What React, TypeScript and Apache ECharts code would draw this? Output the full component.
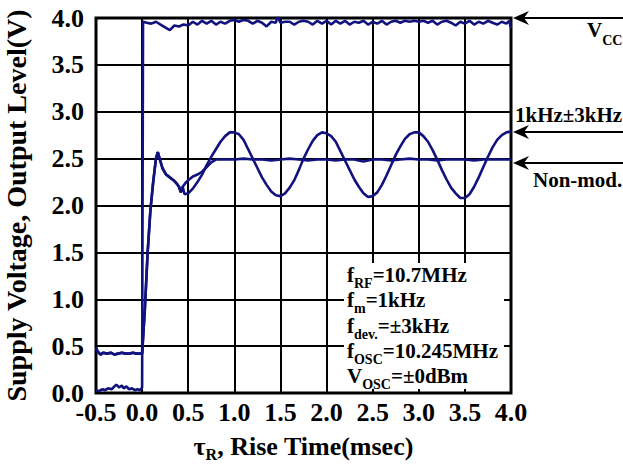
import React, { useEffect, useRef } from "react";
import * as echarts from "echarts";

const FONT = '"Liberation Serif", "Times New Roman", Times, serif';
const NAVY = "#12127f";

// x axis: time (msec), y axis: volts
const xMin = -0.5;
const xMax = 4.0;
const yMin = 0;
const yMax = 4.0;
const tickStep = 0.5;

// Supply voltage (Vcc) trace
const supplyTrace: [number, number][] = [
  [-0.5, 0.03], [-0.47, 0.02], [-0.43, 0.04], [-0.4, 0.03], [-0.37, 0.05], [-0.33, 0.04],
  [-0.3, 0.07], [-0.28, 0.09], [-0.25, 0.06], [-0.22, 0.08], [-0.2, 0.05], [-0.17, 0.07],
  [-0.14, 0.04], [-0.11, 0.05], [-0.08, 0.03], [-0.05, 0.04], [-0.02, 0.03], [0.0, 0.06],
  [0.01, 3.96], [0.05, 3.95], [0.1, 3.94], [0.15, 3.96], [0.2, 3.93], [0.25, 3.9], [0.3, 3.87],
  [0.35, 3.92], [0.4, 3.91], [0.45, 3.93], [0.5, 3.92], [0.55, 3.96], [0.6, 3.93], [0.65, 3.97],
  [0.7, 3.94], [0.75, 3.97], [0.8, 3.93], [0.85, 3.96], [0.9, 3.94], [0.95, 3.97], [1.0, 3.98],
  [1.05, 3.96], [1.1, 3.98], [1.15, 3.97], [1.2, 3.94], [1.25, 3.97], [1.3, 3.95], [1.35, 3.91],
  [1.4, 3.96], [1.45, 3.95], [1.47, 4.02], [1.5, 3.95], [1.55, 3.96], [1.6, 3.96], [1.65, 3.93],
  [1.7, 3.96], [1.75, 3.97], [1.8, 3.96], [1.85, 3.93], [1.9, 3.97], [1.95, 3.94], [2.0, 3.97],
  [2.05, 3.93], [2.1, 3.97], [2.15, 3.94], [2.2, 3.97], [2.25, 3.93], [2.3, 3.96], [2.35, 3.95],
  [2.4, 3.97], [2.45, 3.93], [2.5, 3.96], [2.55, 3.94], [2.6, 3.97], [2.65, 3.93], [2.7, 3.96],
  [2.75, 3.97], [2.8, 3.95], [2.85, 3.97], [2.9, 3.96], [2.95, 3.97], [3.0, 3.96], [3.05, 3.97],
  [3.1, 3.95], [3.15, 3.97], [3.2, 3.93], [3.25, 3.96], [3.3, 3.97], [3.35, 3.95], [3.4, 3.92],
  [3.45, 3.96], [3.5, 3.94], [3.55, 3.97], [3.6, 3.93], [3.65, 3.96], [3.7, 3.94], [3.75, 3.97],
  [3.8, 3.95], [3.85, 3.93], [3.9, 3.96], [3.95, 3.94], [3.98, 3.97], [4.0, 3.89],
];

// Output level, common start of both output traces
const outputStart: [number, number][] = [
  [-0.5, 0.48], [-0.48, 0.44], [-0.45, 0.41], [-0.42, 0.43], [-0.38, 0.42], [-0.34, 0.43],
  [-0.3, 0.41], [-0.26, 0.42], [-0.22, 0.43], [-0.18, 0.42], [-0.14, 0.42], [-0.1, 0.43],
  [-0.06, 0.42], [-0.02, 0.42], [0.0, 0.42], [0.03, 0.9], [0.06, 1.5], [0.09, 1.95],
  [0.12, 2.25], [0.15, 2.5], [0.17, 2.57], [0.19, 2.5], [0.22, 2.4], [0.26, 2.33], [0.3, 2.3],
  [0.34, 2.27], [0.37, 2.24], [0.4, 2.2], [0.42, 2.14], [0.44, 2.2],
];

// Output level, non-modulated
const nonModTrace: [number, number][] = [
  [0.47, 2.24], [0.5, 2.27], [0.55, 2.31], [0.6, 2.33], [0.65, 2.36], [0.7, 2.41], [0.75, 2.46],
  [0.8, 2.49], [0.9, 2.49], [1.0, 2.49], [1.1, 2.5], [1.2, 2.49], [1.3, 2.49], [1.4, 2.48],
  [1.5, 2.49], [1.6, 2.5], [1.7, 2.49], [1.8, 2.48], [1.9, 2.49], [2.0, 2.49], [2.1, 2.48],
  [2.2, 2.49], [2.3, 2.49], [2.4, 2.47], [2.5, 2.49], [2.6, 2.49], [2.7, 2.48], [2.8, 2.49],
  [2.9, 2.5], [3.0, 2.49], [3.1, 2.49], [3.2, 2.48], [3.3, 2.49], [3.4, 2.49], [3.5, 2.49],
  [3.6, 2.48], [3.7, 2.49], [3.8, 2.49], [3.9, 2.49], [4.0, 2.49],
];

// Output level, 1kHz ±3kHz modulated
const modTrace: [number, number][] = [
  [0.46, 2.12], [0.5, 2.13], [0.55, 2.18], [0.6, 2.25], [0.65, 2.33], [0.7, 2.43], [0.75, 2.52],
  [0.8, 2.6], [0.85, 2.68], [0.9, 2.74], [0.95, 2.78], [1.0, 2.78], [1.05, 2.76], [1.1, 2.7],
  [1.15, 2.6], [1.2, 2.5], [1.25, 2.4], [1.3, 2.3], [1.35, 2.22], [1.4, 2.15], [1.45, 2.11],
  [1.5, 2.1], [1.55, 2.13], [1.6, 2.19], [1.65, 2.27], [1.7, 2.38], [1.75, 2.5], [1.8, 2.6],
  [1.85, 2.69], [1.9, 2.75], [1.95, 2.78], [2.0, 2.77], [2.05, 2.74], [2.1, 2.68], [2.15, 2.58],
  [2.2, 2.48], [2.25, 2.38], [2.3, 2.28], [2.35, 2.2], [2.4, 2.13], [2.45, 2.09], [2.5, 2.1],
  [2.55, 2.14], [2.6, 2.22], [2.65, 2.32], [2.7, 2.43], [2.75, 2.54], [2.8, 2.63], [2.85, 2.71],
  [2.9, 2.76], [2.95, 2.78], [3.0, 2.78], [3.05, 2.74], [3.1, 2.68], [3.15, 2.59], [3.2, 2.49],
  [3.25, 2.38], [3.3, 2.28], [3.35, 2.19], [3.4, 2.13], [3.45, 2.08], [3.5, 2.08], [3.55, 2.12],
  [3.6, 2.2], [3.65, 2.3], [3.7, 2.41], [3.75, 2.52], [3.8, 2.62], [3.85, 2.7], [3.9, 2.75],
  [3.95, 2.78], [4.0, 2.79],
];

const conditionLines = [
  "{m|f}{s|RF}{m|=10.7MHz}",
  "{m|f}{s|m}{m|=1kHz}",
  "{m|f}{s|dev.}{m|=±3kHz}",
  "{m|f}{s|OSC}{m|=10.245MHz}",
  "{m|V}{s|OSC}{m|=±0dBm}",
];

const subRich = (main: number, sub: number, pad: number) => ({
  m: { fontSize: main, fontWeight: "bold", fontFamily: FONT, color: "#000", fill: "#000" },
  s: { fontSize: sub, fontWeight: "bold", fontFamily: FONT, color: "#000", fill: "#000", padding: [pad, 0, 0, 0] },
});

function arrow(y: number) {
  return [
    { type: "line", z: 20, shape: { x1: 524, y1: y, x2: 623, y2: y }, style: { stroke: "#000", lineWidth: 2 } },
    {
      type: "polygon", z: 20,
      shape: { points: [[513, y], [529, y - 7], [524, y], [529, y + 7]] },
      style: { fill: "#000" },
    },
  ];
}

export default function App() {
  const ref = useRef<HTMLDivElement>(null);
  useEffect(() => {
    document.body.style.margin = "0";
    const chart = echarts.init(ref.current!, null, { renderer: "svg" });
    const lineSeries = (name: string, data: [number, number][]) => ({
      name, type: "line", data, showSymbol: false, clip: true, z: 3,
      lineStyle: { color: NAVY, width: 2.6 }, itemStyle: { color: NAVY },
    });
    const option: any = {
      animation: false,
      backgroundColor: "#fff",
      grid: { left: 96, right: 112, top: 18, bottom: 77, show: true, borderColor: "#000", borderWidth: 3, outerBoundsMode: "none" },
      xAxis: {
        type: "value", min: xMin, max: xMax, interval: tickStep,
        name: "{m|τ}{s|R}{m|, Rise Time(msec)}", nameLocation: "middle", nameGap: 38,
        nameTextStyle: { fontFamily: FONT, fontWeight: "bold", fontSize: 26, color: "#000", rich: subRich(26, 16, 15) },
        axisLine: { show: false }, axisTick: { show: false },
        axisLabel: { formatter: (v: number) => v.toFixed(1), fontFamily: FONT, fontWeight: "bold", fontSize: 26, color: "#000", margin: 6 },
        splitLine: { show: true, lineStyle: { color: "#000", width: 2 } },
      },
      yAxis: {
        type: "value", min: yMin, max: yMax, interval: tickStep,
        name: "Supply Voltage, Output Level(V)", nameLocation: "middle", nameGap: 66,
        nameTextStyle: { fontFamily: FONT, fontWeight: "bold", fontSize: 28, color: "#000" },
        axisLine: { show: false }, axisTick: { show: false },
        axisLabel: { formatter: (v: number) => v.toFixed(1), fontFamily: FONT, fontWeight: "bold", fontSize: 26, color: "#000", margin: 12 },
        splitLine: { show: true, lineStyle: { color: "#000", width: 2 } },
      },
      series: [
        lineSeries("Vcc", supplyTrace),
        lineSeries("Non-mod.", [...outputStart, ...nonModTrace]),
        lineSeries("1kHz±3kHz", [...outputStart, ...modTrace]),
      ],
      graphic: [
        { type: "rect", z: 10, shape: { x: 344, y: 263, width: 160, height: 126 }, style: { fill: "#fff" } },
        ...conditionLines.map((t, i) => ({
          type: "text", z: 11, x: 347, y: 275 + i * 25.3,
          style: { text: t, rich: subRich(21, 14, 17), verticalAlign: "middle", align: "left", fill: "#000" },
        })),
        ...arrow(18), ...arrow(132), ...arrow(163),
        { type: "text", z: 20, x: 587, y: 30, style: { text: "{m|V}{s|CC}", rich: subRich(21, 14, 20), verticalAlign: "middle", align: "left" } },
        { type: "text", z: 20, x: 515, y: 115, style: { text: "1kHz±3kHz", font: `bold 21px ${FONT}`, fill: "#000", verticalAlign: "middle", align: "left" } },
        { type: "text", z: 20, x: 533, y: 180, style: { text: "Non-mod.", font: `bold 21px ${FONT}`, fill: "#000", verticalAlign: "middle", align: "left" } },
      ],
    };
    chart.setOption(option);
    return () => chart.dispose();
  }, []);
  return <div ref={ref} style={{ width: 623, height: 470 }} />;
}
